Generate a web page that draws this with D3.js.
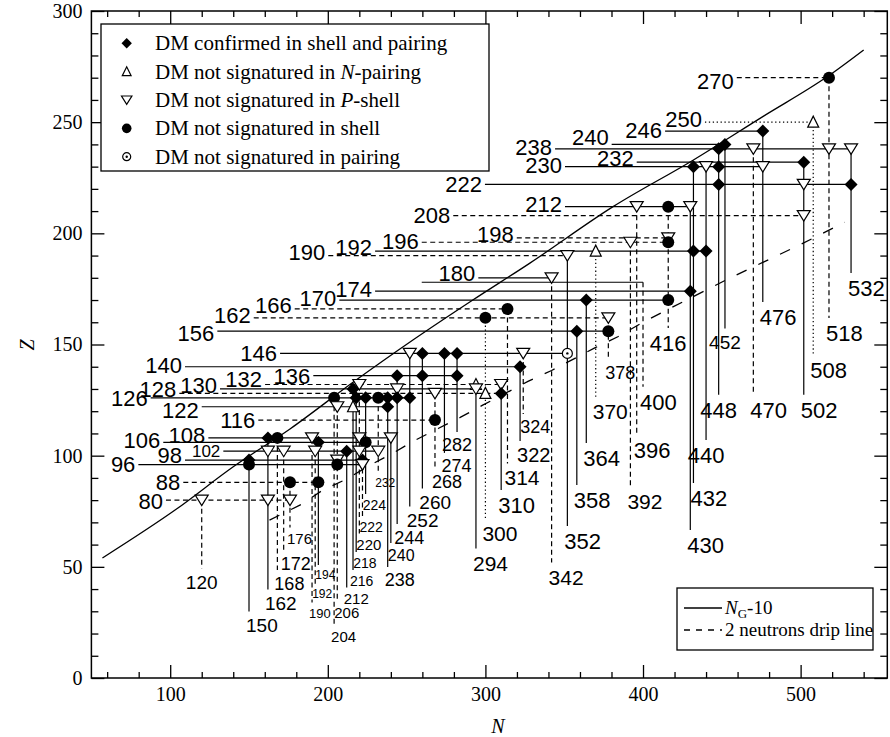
<!DOCTYPE html>
<html>
<head>
<meta charset="utf-8">
<script src="https://cdn.jsdelivr.net/npm/d3@7"></script>
<style>
  body { margin: 0; background: #fff; }
  svg { display: block; }
</style>
</head>
<body>
<svg id="chart" width="890" height="737"></svg>
<script>
// ---------- data ----------
const xTicks = [100, 200, 300, 400, 500];
const yTicks = [0, 50, 100, 150, 200, 250, 300];

// [N, Z, kind]  D: confirmed, U: not in N-pairing, V: not in P-shell,
//               C: not in shell, O: not in pairing
const nuclei = [
  [518, 270, 'C'], [508, 250, 'U'], [476, 246, 'D'], [452, 240, 'D'],
  [448, 238, 'D'], [470, 238, 'V'], [518, 238, 'V'], [532, 238, 'V'],
  [502, 232, 'D'],
  [432, 230, 'D'], [440, 230, 'V'], [448, 230, 'D'], [476, 230, 'V'],
  [448, 222, 'D'], [502, 222, 'V'], [532, 222, 'D'],
  [396, 212, 'V'], [416, 212, 'C'], [430, 212, 'V'],
  [502, 208, 'V'],
  [416, 198, 'V'],
  [392, 196, 'V'], [416, 196, 'C'],
  [370, 192, 'U'], [432, 192, 'D'], [440, 192, 'D'],
  [352, 190, 'V'],
  [342, 180, 'V'],
  [430, 174, 'D'],
  [364, 170, 'D'], [416, 170, 'C'],
  [314, 166, 'C'],
  [300, 162, 'C'], [378, 162, 'V'],
  [358, 156, 'D'], [378, 156, 'C'],
  [252, 146, 'V'], [260, 146, 'D'], [274, 146, 'D'], [282, 146, 'D'], [324, 146, 'V'], [352, 146, 'O'],
  [322, 140, 'D'],
  [244, 136, 'D'], [260, 136, 'D'], [282, 136, 'D'],
  [220, 132, 'V'], [294, 132, 'U'], [310, 132, 'V'],
  [216, 130, 'D'], [244, 130, 'V'], [294, 130, 'V'],
  [268, 128, 'V'], [300, 128, 'U'], [310, 128, 'D'],
  [204, 126, 'C'], [218, 126, 'D'], [224, 126, 'D'], [232, 126, 'C'], [238, 126, 'D'], [244, 126, 'D'], [252, 126, 'D'],
  [206, 122, 'V'], [216, 122, 'U'], [238, 122, 'D'],
  [268, 116, 'C'],
  [162, 108, 'D'], [168, 108, 'C'], [190, 108, 'V'], [220, 108, 'V'], [240, 108, 'V'],
  [194, 106, 'D'], [224, 106, 'C'],
  [162, 102, 'V'], [172, 102, 'V'], [192, 102, 'V'], [212, 102, 'D'], [220, 102, 'V'], [232, 102, 'V'],
  [150, 98, 'D'], [206, 98, 'V'], [222, 98, 'D'],
  [150, 96, 'C'], [206, 96, 'C'], [222, 96, 'V'],
  [176, 88, 'C'], [194, 88, 'C'],
  [120, 80, 'V'], [162, 80, 'V'], [176, 80, 'V']
];
// guide-line crossings that carry no marker
const unmarkedCrossings = [[400, 178]];

const protonMagic = [270, 250, 246, 240, 238, 232, 230, 222, 212, 208, 198, 196, 192, 190,
  180, 178, 174, 170, 166, 162, 156, 146, 140, 136, 132, 130, 128, 126, 122, 116,
  108, 106, 102, 98, 96, 88, 80];
const unlabelledProton = [178];

const neutronMagic = [120, 150, 162, 168, 172, 176, 190, 192, 194, 204, 206, 212, 216, 218,
  220, 222, 224, 232, 238, 240, 244, 252, 260, 268, 274, 282, 294, 300, 310, 314, 322, 324,
  342, 352, 358, 364, 370, 378, 392, 396, 400, 416, 430, 432, 440, 448, 452, 470, 476,
  502, 508, 518, 532];

// N_G - 10 line, [N, Z]
const ngMinus10 = [[57, 54], [104, 76], [140, 95], [176, 112], [216, 133], [254, 152],
  [292, 170], [328, 186.5], [381, 212], [432, 233], [476, 252.5], [517, 270.5], [540, 282.5]];

// two-neutron drip line, [N, Z]
const dripLine = [[163, 71], [183, 78], [197, 84.6], [212, 89.5], [227, 95.8], [241, 101],
  [255, 106.8], [270, 112.2], [284, 117.2], [298, 122.6], [327, 133.4], [342, 138.3],
  [370, 148.7], [384, 153.5], [399, 159.6], [412, 164.4], [456, 180.2], [500, 195], [528, 205]];

const legendKinds = ['D', 'U', 'V', 'C', 'O'];
const legendLabels = [
  [['DM confirmed in shell and pairing', false]],
  [['DM not signatured in ', false], ['N', true], ['-pairing', false]],
  [['DM not signatured in ', false], ['P', true], ['-shell', false]],
  [['DM not signatured in shell', false]],
  [['DM not signatured in pairing', false]]
];

// ---------- styles & layout ----------
const protonStyle = {270:'dash',250:'dot',246:'solid',240:'solid',238:'solid',232:'solid',230:'solid',
  222:'solid',212:'solid',208:'dash',198:'dash',196:'dash',192:'solid',190:'dash',180:'solid',178:'solid',
  174:'solid',170:'solid',166:'dash',162:'dash',156:'solid',146:'solid',140:'solid',136:'solid',132:'dash',
  130:'solid',128:'dash',126:'solid',122:'solid',116:'dash',108:'solid',106:'solid',102:'solid',98:'solid',
  96:'solid',88:'dash',80:'dash'};
// [N where the line starts, vertical nudge of the label in px]
const protonLabelAt = {270:[459.5,3],250:[439.3,-3],246:[414,-1],240:[380.1,-7],238:[344.2,-2],
  232:[396,-4],230:[350.5,-2],222:[299.7,0],212:[350.5,-3],208:[279.6,0],198:[319.9,-4],196:[259.6,-1],
  192:[230,-4],190:[200.3,-3],180:[295.5,-5],178:[259.6,0],174:[230,-2],170:[207.3,-2],166:[179,-4],
  162:[153,-3],156:[129.9,2],146:[169.7,0],140:[109.4,-2],136:[190.8,0],132:[160.2,-5],130:[131.6,-4],
  128:[105.8,-4],126:[87.6,0],122:[120,3],116:[155.9,0],108:[124.2,-3],106:[95.6,-2],102:[133.7,0],
  98:[109.4,-5],96:[79.8,0],88:[108.3,0],80:[97.3,1]};
const protonFont = {102: 17};

const neutronStyle = {120:'dash',150:'solid',162:'solid',168:'dash',172:'dash',176:'dash',190:'dash',
  192:'dash',194:'solid',204:'dash',206:'dash',212:'solid',216:'solid',218:'solid',220:'dash',222:'dash',
  224:'solid',232:'dash',238:'solid',240:'solid',244:'solid',252:'solid',260:'solid',268:'dash',274:'solid',
  282:'solid',294:'solid',300:'dot',310:'solid',314:'dash',322:'solid',324:'dash',342:'dash',352:'solid',
  358:'solid',364:'solid',370:'dot',378:'dash',392:'dash',396:'dash',400:'dash',416:'dash',430:'solid',
  432:'solid',440:'solid',448:'solid',452:'solid',470:'dash',476:'solid',502:'solid',508:'dot',518:'dash',
  532:'solid'};
// [Z at label centre, font px, anchor]
const neutronLabelAt = {120:[43.2,19,'middle'],150:[23.8,19],162:[33.7,19],168:[42.7,18],172:[51.7,18],
  176:[62.5,15],190:[29.2,13],192:[37.8,12],194:[46.3,12],204:[18.4,15],206:[29.2,15],212:[35.5,15],
  216:[43.6,14],218:[51.7,14],220:[59.8,15],222:[67.9,14],224:[77.8,14],232:[87.7,12],238:[44.1,18],
  240:[55.3,16],244:[63.4,18],252:[71.1,19],260:[79.2,19],268:[88.2,18],274:[95.4,18],282:[104.8,18,'middle'],
  294:[51.7,21],300:[65.2,21],310:[77.8,22],314:[90,21],322:[100.3,20],324:[112.9,18],342:[45.4,21],
  352:[61.6,22],358:[80.1,22],364:[99,22],370:[119.7,21],378:[137.3,18],392:[79.2,21],396:[102.6,22],
  400:[124.2,22],416:[150.7,22,'middle'],430:[59.8,22],432:[81,22],440:[100.3,22,'middle'],
  448:[120.6,22,'middle'],452:[151.1,19,'middle'],470:[120.6,22],476:[162.4,22],502:[120.6,22],
  508:[138.6,22],518:[155.2,22],532:[175.4,22]};

const dashOf = s => s === 'dash' ? '5,3.5' : s === 'dot' ? '1.3,2.6' : null;
const serif = "'Liberation Serif', 'Times New Roman', serif";
const sans = "'Liberation Sans', Arial, sans-serif";

// ---------- scales ----------
const svg = d3.select('#chart');
const x = d3.scaleLinear().domain([50, 555]).range([91.4, 887.3]);
const y = d3.scaleLinear().domain([0, 300]).range([678, 11]);

const crossings = nuclei.map(d => [d[0], d[1]]).concat(unmarkedCrossings);
const rightEnd = z => d3.max(crossings.filter(c => c[1] === z), c => c[0]);
const topEnd = n => d3.max(crossings.filter(c => c[0] === n), c => c[1]);

const plot = svg.append('g');

// horizontal proton guides
plot.append('g').selectAll('line').data(protonMagic).join('line')
  .attr('x1', z => x(protonLabelAt[z][0])).attr('x2', z => x(rightEnd(z)))
  .attr('y1', z => y(z)).attr('y2', z => y(z))
  .attr('stroke', '#000').attr('stroke-width', 1.2)
  .attr('stroke-dasharray', z => dashOf(protonStyle[z]));

// vertical neutron guides
const nLabel = n => neutronLabelAt[n];
plot.append('g').selectAll('line').data(neutronMagic).join('line')
  .attr('x1', n => x(n)).attr('x2', n => x(n))
  .attr('y1', n => y(topEnd(n)))
  .attr('y2', n => y(nLabel(n)[0]) - (nLabel(n)[1] * 0.5 + 4))
  .attr('stroke', '#000').attr('stroke-width', 1.2)
  .attr('stroke-dasharray', n => dashOf(neutronStyle[n]));

// reference curves
plot.append('path').datum(ngMinus10)
  .attr('d', d3.line().x(d => x(d[0])).y(d => y(d[1])).curve(d3.curveMonotoneX))
  .attr('fill', 'none').attr('stroke', '#000').attr('stroke-width', 1.3);
plot.append('path').datum(dripLine)
  .attr('d', d3.line().x(d => x(d[0])).y(d => y(d[1])))
  .attr('fill', 'none').attr('stroke', '#000').attr('stroke-width', 1.3)
  .attr('stroke-dasharray', '11,13');

// markers
function drawMarker(sel, kind, k) {
  if (kind === 'D') {
    const s = 6.5 * k;
    sel.append('path').attr('d', `M0,${-s}L${s},0L0,${s}L${-s},0Z`).attr('fill', '#000');
  } else if (kind === 'C') {
    sel.append('circle').attr('r', 6 * k).attr('fill', '#000');
  } else if (kind === 'V') {
    const w = 6.5 * k, t = 5 * k, b = 5.5 * k;
    sel.append('path').attr('d', `M${-w},${-t}L${w},${-t}L0,${b}Z`)
      .attr('fill', '#fff').attr('stroke', '#000').attr('stroke-width', 1.2);
  } else if (kind === 'U') {
    const w = 5.5 * k, t = 6 * k, b = 5 * k;
    sel.append('path').attr('d', `M${-w},${b}L${w},${b}L0,${-t}Z`)
      .attr('fill', '#fff').attr('stroke', '#000').attr('stroke-width', 1.2);
  } else if (kind === 'O') {
    sel.append('circle').attr('r', 5 * k).attr('fill', '#fff').attr('stroke', '#000').attr('stroke-width', 1.2);
    sel.append('circle').attr('r', 1.2).attr('fill', '#000');
  }
}
plot.append('g').selectAll('g').data(nuclei).join('g')
  .attr('transform', d => `translate(${x(d[0])},${y(d[1])})`)
  .each(function (d) { drawMarker(d3.select(this), d[2], 1); });

// proton labels
plot.append('g').selectAll('text').data(protonMagic.filter(z => !unlabelledProton.includes(z))).join('text')
  .attr('x', z => x(protonLabelAt[z][0]) - 3)
  .attr('y', z => y(z) + protonLabelAt[z][1])
  .attr('dy', '0.36em').attr('text-anchor', 'end')
  .attr('font-family', sans).attr('font-size', z => protonFont[z] || 22)
  .text(z => z);

// neutron labels
plot.append('g').selectAll('text').data(neutronMagic).join('text')
  .attr('x', n => nLabel(n)[2] === 'middle' ? x(n) : x(n) - 3)
  .attr('y', n => y(nLabel(n)[0]))
  .attr('dy', '0.36em').attr('text-anchor', n => nLabel(n)[2] || 'start')
  .attr('font-family', sans).attr('font-size', n => nLabel(n)[1])
  .text(n => n);

// ---------- axes ----------
const x0 = x.range()[0], x1 = x.range()[1], yB = y(0), yT = y(300);
const styleAxis = g => {
  g.select('.domain').remove();
  g.selectAll('line').attr('stroke', '#000').attr('stroke-width', 1.3);
  g.selectAll('text').attr('font-family', serif).attr('font-size', 20).attr('fill', '#000');
};
const xMinor = d3.range(60, 555, 20).filter(v => v % 100 !== 0);
const yMinor = d3.range(10, 300, 10).filter(v => v % 50 !== 0);

svg.append('g').attr('transform', `translate(0,${yB})`)
  .call(d3.axisBottom(x).tickValues(xTicks).tickSize(-13).tickSizeOuter(0).tickPadding(9).tickFormat(d3.format('d')))
  .call(styleAxis);
svg.append('g').attr('transform', `translate(0,${yB})`)
  .call(d3.axisBottom(x).tickValues(xMinor).tickSize(-6).tickSizeOuter(0).tickFormat(''))
  .call(styleAxis);
svg.append('g').attr('transform', `translate(0,${yT})`)
  .call(d3.axisTop(x).tickValues(xTicks).tickSize(-13).tickSizeOuter(0).tickFormat(''))
  .call(styleAxis);
svg.append('g').attr('transform', `translate(0,${yT})`)
  .call(d3.axisTop(x).tickValues(xMinor).tickSize(-6).tickSizeOuter(0).tickFormat(''))
  .call(styleAxis);
svg.append('g').attr('transform', `translate(${x0},0)`)
  .call(d3.axisLeft(y).tickValues(yTicks).tickSize(-13).tickSizeOuter(0).tickPadding(9).tickFormat(d3.format('d')))
  .call(styleAxis);
svg.append('g').attr('transform', `translate(${x0},0)`)
  .call(d3.axisLeft(y).tickValues(yMinor).tickSize(-7).tickSizeOuter(0).tickFormat(''))
  .call(styleAxis);
svg.append('g').attr('transform', `translate(${x1},0)`)
  .call(d3.axisRight(y).tickValues(yTicks).tickSize(-13).tickSizeOuter(0).tickFormat(''))
  .call(styleAxis);
svg.append('g').attr('transform', `translate(${x1},0)`)
  .call(d3.axisRight(y).tickValues(yMinor).tickSize(-7).tickSizeOuter(0).tickFormat(''))
  .call(styleAxis);

svg.append('rect').attr('x', x0).attr('y', yT).attr('width', x1 - x0).attr('height', yB - yT)
  .attr('fill', 'none').attr('stroke', '#000').attr('stroke-width', 1.5);

svg.append('text').attr('x', 498).attr('y', 733).attr('text-anchor', 'middle')
  .attr('font-family', serif).attr('font-style', 'italic').attr('font-size', 20).text('N');
svg.append('text').attr('transform', 'translate(34,345) rotate(-90)').attr('text-anchor', 'middle')
  .attr('font-family', serif).attr('font-style', 'italic').attr('font-size', 20).text('Z');

// ---------- legends ----------
const lg = svg.append('g');
lg.append('rect').attr('x', 101).attr('y', 24).attr('width', 388).attr('height', 147)
  .attr('fill', '#fff').attr('stroke', '#000').attr('stroke-width', 1.3);
legendKinds.forEach((kind, i) => {
  const cy = 43.3 + i * 28.35;
  drawMarker(lg.append('g').attr('transform', `translate(126.7,${cy})`), kind, 0.8);
  const t = lg.append('text').attr('x', 155).attr('y', cy).attr('dy', '0.33em')
    .attr('font-family', serif).attr('font-size', 21);
  legendLabels[i].forEach(([s, it]) => t.append('tspan').attr('font-style', it ? 'italic' : null).text(s));
});

const lg2 = svg.append('g');
lg2.append('rect').attr('x', 677).attr('y', 588).attr('width', 196).attr('height', 62)
  .attr('fill', '#fff').attr('stroke', '#000').attr('stroke-width', 1.3);
lg2.append('line').attr('x1', 684).attr('x2', 722).attr('y1', 608).attr('y2', 608)
  .attr('stroke', '#000').attr('stroke-width', 1.3);
lg2.append('line').attr('x1', 684).attr('x2', 722).attr('y1', 630).attr('y2', 630)
  .attr('stroke', '#000').attr('stroke-width', 1.3).attr('stroke-dasharray', '6,6');
const t1 = lg2.append('text').attr('x', 725).attr('y', 608).attr('dy', '0.33em')
  .attr('font-family', serif).attr('font-size', 19);
t1.append('tspan').attr('font-style', 'italic').text('N');
t1.append('tspan').attr('font-size', 13).attr('dy', '0.3em').text('G');
t1.append('tspan').attr('dy', '-0.22em').text('-10');
lg2.append('text').attr('x', 725).attr('y', 630).attr('dy', '0.33em')
  .attr('font-family', serif).attr('font-size', 19).text('2 neutrons drip line');
</script>
</body>
</html>
